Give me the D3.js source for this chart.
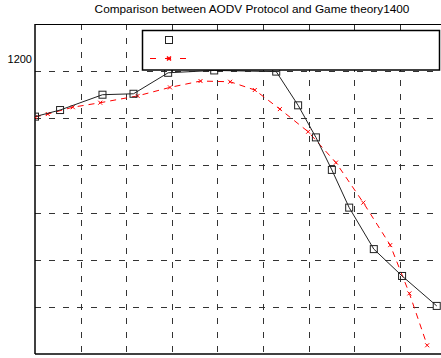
<!DOCTYPE html>
<html>
<head>
<meta charset="utf-8">
<script src="https://cdn.jsdelivr.net/npm/d3@7"></script>
<style>
  body { margin: 0; background: #fff; }
  svg { display: block; font-family: "Liberation Sans", Arial, sans-serif; }
</style>
</head>
<body>
<svg id="chart" width="441" height="358"></svg>
<script>
// AODV series (black, squares)
var aodvX = [0, 5.5, 14.8, 21.6, 29.2, 39.3, 52.9, 57.7, 61.6, 65.1, 68.9, 74.3, 80.5, 88.1];
var aodvY = [1007, 1035, 1100, 1104, 1193, 1203, 1198, 1055, 919, 781, 621, 445, 331, 204];

// Game theory series (red dashed, x markers)
var gameX = [0, 2.8, 8.3, 14.3, 22.5, 29.6, 36.3, 42.8, 48.2, 53.7, 59.9, 66.0, 72.0, 77.9, 82.1, 86.0];
var gameY = [1005, 1018, 1047, 1066, 1095, 1131, 1158, 1155, 1120, 1039, 943, 812, 642, 462, 257, 37];

var xTicks = [10, 20, 30, 40, 50, 60, 70, 80, 90];
var yTicks = [200, 400, 600, 800, 1000, 1200];
var yLabels = ["1200"];
var title = "Comparison between AODV Protocol and Game theory1400";

var svg = d3.select("#chart");

//Plot area (right side is cut off by the window)
var pLeft = 35, pTop = 24, pRight = 491, pBottom = 354;

var x = d3.scaleLinear().domain([0, 100]).range([pLeft, pRight]);
var y = d3.scaleLinear().domain([0, 1400]).range([pBottom, pTop]);

svg.append("clipPath").attr("id", "clip")
   .append("rect").attr("x", pLeft).attr("y", pTop)
   .attr("width", pRight - pLeft).attr("height", pBottom - pTop);

//Grid
var grid = svg.append("g").attr("stroke", "#333").attr("stroke-width", 1)
   .attr("stroke-dasharray", "6,8");
grid.selectAll(".vg").data(xTicks).enter().append("line")
   .attr("x1", function(d) { return Math.round(x(d)) + 0.5; })
   .attr("x2", function(d) { return Math.round(x(d)) + 0.5; })
   .attr("y1", pTop).attr("y2", pBottom);
grid.selectAll(".hg").data(yTicks).enter().append("line")
   .attr("y1", function(d) { return Math.round(y(d)) + 0.5; })
   .attr("y2", function(d) { return Math.round(y(d)) + 0.5; })
   .attr("x1", pLeft).attr("x2", pRight);

//Frame
svg.append("line").attr("x1", pLeft).attr("x2", pLeft).attr("y1", pTop).attr("y2", pBottom)
   .attr("stroke", "#000").attr("stroke-width", 1.5);
svg.append("line").attr("x1", pLeft).attr("x2", 441).attr("y1", pTop + 0.5).attr("y2", pTop + 0.5)
   .attr("stroke", "#000").attr("stroke-width", 1);
svg.append("line").attr("x1", pLeft).attr("x2", 441).attr("y1", pBottom).attr("y2", pBottom)
   .attr("stroke", "#000").attr("stroke-width", 1.5);

//Y tick label (only 1200 is visible)
svg.selectAll(".yl").data(yLabels).enter().append("text")
   .attr("x", pLeft - 3).attr("y", function(d) { return y(+d) - 12; })
   .attr("dy", "0.35em").attr("text-anchor", "end")
   .attr("font-size", 11).attr("fill", "#000").text(function(d) { return d; });

//Title
svg.append("text").attr("x", 252).attr("y", 13).attr("text-anchor", "middle")
   .attr("font-size", 11.8).attr("fill", "#000").text(title);

var plot = svg.append("g").attr("clip-path", "url(#clip)");

var aodv = aodvX.map(function(d, i) { return [d, aodvY[i]]; });
var game = gameX.map(function(d, i) { return [d, gameY[i]]; });

var line = d3.line()
   .x(function(d) { return x(d[0]); })
   .y(function(d) { return y(d[1]); });

//Game theory line
plot.append("path").datum(game).attr("d", line)
   .attr("fill", "none").attr("stroke", "#ff0000").attr("stroke-width", 1)
   .attr("stroke-dasharray", "6,5");
plot.selectAll(".gm").data(game).enter().append("path")
   .attr("transform", function(d) { return "translate(" + x(d[0]) + "," + y(d[1]) + ")"; })
   .attr("d", "M-2,-2L2,2M-2,2L2,-2")
   .attr("stroke", "#ff0000").attr("stroke-width", 1);

//AODV line
plot.append("path").datum(aodv).attr("d", line)
   .attr("fill", "none").attr("stroke", "#222").attr("stroke-width", 1);
plot.selectAll(".am").data(aodv).enter().append("rect")
   .attr("x", function(d) { return x(d[0]) - 3.5; })
   .attr("y", function(d) { return y(d[1]) - 3.5; })
   .attr("width", 7).attr("height", 7)
   .attr("fill", "none").attr("stroke", "#222").attr("stroke-width", 1);

//Legend
var legend = svg.append("g");
legend.append("rect").attr("x", 142.5).attr("y", 30.5).attr("width", 297).attr("height", 39.5)
   .attr("fill", "#fff").attr("stroke", "#000").attr("stroke-width", 1.5);
legend.append("rect").attr("x", 165.5).attr("y", 36.5).attr("width", 7).attr("height", 7)
   .attr("fill", "none").attr("stroke", "#222").attr("stroke-width", 1);
legend.append("line").attr("x1", 150).attr("x2", 189).attr("y1", 58.5).attr("y2", 58.5)
   .attr("stroke", "#ff0000").attr("stroke-width", 1).attr("stroke-dasharray", "6,9");
legend.append("path").attr("transform", "translate(169,58.5)")
   .attr("d", "M-2,-2L2,2M-2,2L2,-2")
   .attr("stroke", "#ff0000").attr("stroke-width", 1.5);
</script>
</body>
</html>
